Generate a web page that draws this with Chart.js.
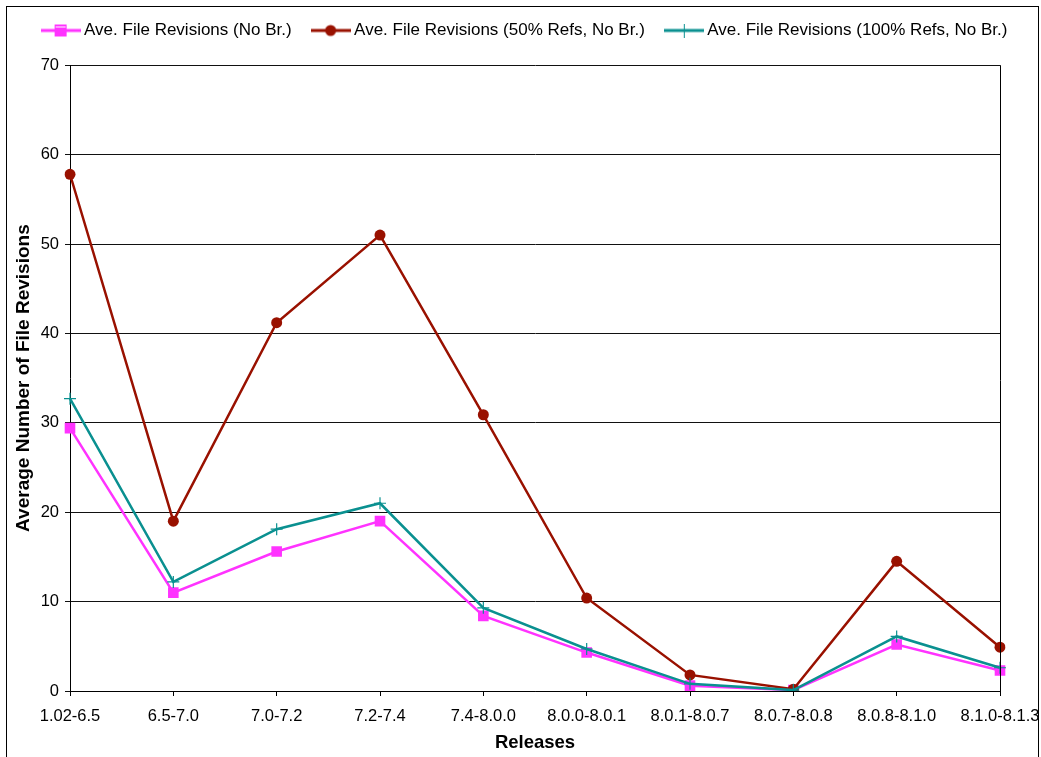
<!DOCTYPE html>
<html>
<head>
<meta charset="utf-8">
<script src="https://cdn.jsdelivr.net/npm/chart.js@4.4.1/dist/chart.umd.min.js"></script>
<style>
  html, body { margin: 0; padding: 0; background: #fff; }
  #wrap { width: 1041px; height: 757px; position: relative; }
</style>
</head>
<body>
<div id="wrap"><canvas id="c" width="1041" height="757"></canvas></div>
<script>
// Release intervals
const releases = ['1.02-6.5', '6.5-7.0', '7.0-7.2', '7.2-7.4', '7.4-8.0.0',
                  '8.0.0-8.0.1', '8.0.1-8.0.7', '8.0.7-8.0.8', '8.0.8-8.1.0', '8.1.0-8.1.3'];

// Average file revisions per release interval
const revNoBr        = [29.4, 11.0, 15.6, 19.0, 8.4, 4.3, 0.6, 0.1, 5.2, 2.3];
const rev50RefsNoBr  = [57.8, 19.0, 41.2, 51.0, 30.9, 10.4, 1.8, 0.2, 14.5, 4.9];
const rev100RefsNoBr = [32.7, 12.2, 18.1, 21.0, 9.3, 4.7, 0.8, 0.1, 6.1, 2.6];

const seriesNames = ['Ave. File Revisions (No Br.)',
                     'Ave. File Revisions (50% Refs, No Br.)',
                     'Ave. File Revisions (100% Refs, No Br.)'];

const yTicks = [0, 10, 20, 30, 40, 50, 60, 70];

const MAGENTA = '#ff33ff';
const DARKRED = '#991100';
const TEAL = '#0a9090';

// Legend swatch: short line with the series marker in the middle
function swatch(color, kind) {
  const cv = document.createElement('canvas');
  cv.width = 40; cv.height = 14;
  const g = cv.getContext('2d');
  g.strokeStyle = color; g.fillStyle = color; g.lineWidth = 3;
  g.beginPath(); g.moveTo(0, 7); g.lineTo(40, 7); g.stroke();
  if (kind === 'rect') {
    g.fillRect(14, 1, 12, 12);
    g.strokeStyle = '#fff'; g.lineWidth = 1;
    g.beginPath(); g.moveTo(15, 3.5); g.lineTo(25, 3.5); g.stroke();
  } else if (kind === 'circle') {
    g.beginPath(); g.arc(20, 7, 5.5, 0, Math.PI * 2); g.fill();
  } else {
    g.lineWidth = 1;
    g.beginPath(); g.moveTo(20.5, 0); g.lineTo(20.5, 14); g.stroke();
  }
  return cv;
}
const swatches = [swatch(MAGENTA, 'rect'), swatch(DARKRED, 'circle'), swatch(TEAL, 'cross')];

// Outer frame and right border of the plot area; nudges the legend row
const framePlugin = {
  id: 'frame',
  afterLayout(chart) {
    const lg = chart.legend;
    if (lg) {
      const dx = 6, dy = -3;
      lg.left += dx; lg.right += dx;
      lg.top += dy; lg.bottom += dy;
    }
  },
  afterDraw(chart) {
    const { ctx, chartArea } = chart;
    ctx.save();
    ctx.strokeStyle = '#000';
    ctx.lineWidth = 1;
    ctx.strokeRect(6.5, 6.5, 1032, 800);
    ctx.beginPath();
    ctx.moveTo(Math.round(chartArea.right) + 0.5, chartArea.top);
    ctx.lineTo(Math.round(chartArea.right) + 0.5, chartArea.bottom + 5);
    ctx.stroke();
    ctx.restore();
  }
};

const FONT = "'Liberation Sans', Arial, sans-serif";

new Chart(document.getElementById('c'), {
  type: 'line',
  data: {
    labels: releases,
    datasets: [
      {
        label: seriesNames[0], data: revNoBr,
        borderColor: MAGENTA, backgroundColor: MAGENTA, borderWidth: 2.5,
        pointStyle: 'rect', pointRadius: 7.5, pointBorderWidth: 0,
        pointBackgroundColor: MAGENTA, order: 3, tension: 0
      },
      {
        label: seriesNames[1], data: rev50RefsNoBr,
        borderColor: DARKRED, backgroundColor: DARKRED, borderWidth: 2.5,
        pointStyle: 'circle', pointRadius: 5.5, pointBorderWidth: 0,
        pointBackgroundColor: DARKRED, order: 2, tension: 0
      },
      {
        label: seriesNames[2], data: rev100RefsNoBr,
        borderColor: TEAL, backgroundColor: TEAL, borderWidth: 2.5,
        pointStyle: 'cross', pointRadius: 6, pointBorderWidth: 1.2,
        pointBorderColor: TEAL, order: 1, tension: 0
      }
    ]
  },
  options: {
    responsive: false,
    animation: false,
    devicePixelRatio: 1,
    layout: { padding: { top: 1, left: 10, right: 10, bottom: 3 } },
    plugins: {
      legend: {
        display: true,
        position: 'top',
        labels: {
          font: { family: FONT, size: 17 },
          color: '#000',
          usePointStyle: true,
          pointStyleWidth: 30,
          boxHeight: 14,
          padding: 24,
          generateLabels(chart) {
            return chart.data.datasets.map((ds, i) => ({
              text: ds.label,
              pointStyle: swatches[i],
              fillStyle: ds.borderColor,
              strokeStyle: ds.borderColor,
              lineWidth: 0,
              hidden: false,
              datasetIndex: i
            }));
          }
        }
      },
      // empty spacer between the legend and the plot
      subtitle: {
        display: true, text: '', weight: 500,
        font: { size: 1 }, padding: { top: 0, bottom: 12 }
      },
      tooltip: { enabled: false }
    },
    scales: {
      x: {
        type: 'category',
        offset: false,
        grid: { display: true, drawOnChartArea: false, drawTicks: true, tickLength: 5, color: '#000' },
        border: { display: true, color: '#000', width: 1 },
        ticks: { font: { family: FONT, size: 16.5 }, color: '#000', maxRotation: 0, autoSkip: false, padding: 11 },
        title: { display: true, text: 'Releases', font: { family: FONT, size: 18.5, weight: 'bold' }, color: '#000', padding: { top: 0, bottom: 0 } },
        afterFit(scale) { scale.height = 63; scale.paddingLeft = 0; scale.paddingRight = 41; }
      },
      y: {
        min: 0, max: 70,
        afterBuildTicks(scale) { scale.ticks = yTicks.map(v => ({ value: v })); },
        grid: { display: true, color: '#111', lineWidth: 1, drawTicks: true, tickLength: 5 },
        border: { display: true, color: '#000', width: 1 },
        ticks: { font: { family: FONT, size: 16.5 }, color: '#000', padding: 6 },
        title: { display: true, text: 'Average Number of File Revisions', font: { family: FONT, size: 19, weight: 'bold' }, color: '#000', padding: { top: 2, bottom: 2 } },
        afterFit(scale) { scale.width = 60; scale.paddingTop = 0; scale.paddingBottom = 0; }
      }
    }
  },
  plugins: [framePlugin]
});
</script>
</body>
</html>
